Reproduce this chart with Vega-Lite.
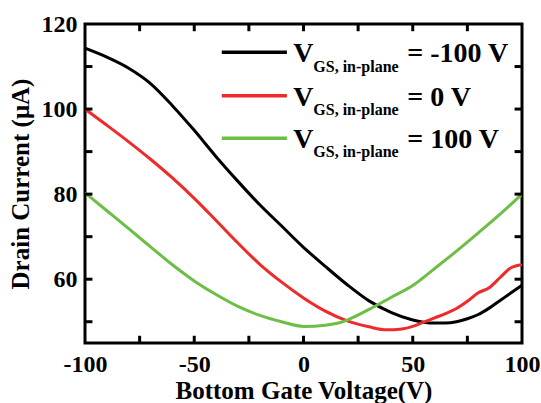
{
  "$schema": "https://vega.github.io/schema/vega-lite/v6.json",
  "width": 437,
  "height": 319,
  "autosize": "none",
  "padding": {"left": 85, "top": 24, "right": 19, "bottom": 60},
  "background": "white",
  "config": {
    "font": "Liberation Serif",
    "view": {"stroke": "black", "strokeWidth": 3},
    "axis": {
      "domain": false, "grid": false, "ticks": false,
      "labelFont": "Liberation Serif", "labelFontWeight": "bold", "labelFontSize": 24, "labelColor": "black",
      "titleFont": "Liberation Serif", "titleFontWeight": "bold", "titleFontSize": 25, "titleColor": "black",
      "labelFlush": false, "labelOverlap": false, "labelBound": false
    }
  },
  "datasets": {
    "xticks": [
      {"v": -75, "kind": "minor"},
      {"v": -50, "kind": "major"},
      {"v": -25, "kind": "minor"},
      {"v": 0, "kind": "major"},
      {"v": 25, "kind": "minor"},
      {"v": 50, "kind": "major"},
      {"v": 75, "kind": "minor"}
    ],
    "yticks": [
      {"v": 50, "kind": "minor"},
      {"v": 60, "kind": "major"},
      {"v": 70, "kind": "minor"},
      {"v": 80, "kind": "major"},
      {"v": 90, "kind": "minor"},
      {"v": 100, "kind": "major"},
      {"v": 110, "kind": "minor"}
    ],
    "curves": [
      {"series": "-100", "vbg": -100, "current": 114.3},
      {"series": "-100", "vbg": -90, "current": 112.2},
      {"series": "-100", "vbg": -80, "current": 109.6},
      {"series": "-100", "vbg": -70, "current": 106.0},
      {"series": "-100", "vbg": -60, "current": 100.8},
      {"series": "-100", "vbg": -50, "current": 95.0},
      {"series": "-100", "vbg": -40, "current": 88.8},
      {"series": "-100", "vbg": -30, "current": 83.0},
      {"series": "-100", "vbg": -20, "current": 77.5},
      {"series": "-100", "vbg": -10, "current": 72.5},
      {"series": "-100", "vbg": 0, "current": 67.5},
      {"series": "-100", "vbg": 10, "current": 63.0},
      {"series": "-100", "vbg": 20, "current": 58.7},
      {"series": "-100", "vbg": 30, "current": 54.9},
      {"series": "-100", "vbg": 40, "current": 52.2},
      {"series": "-100", "vbg": 50, "current": 50.4},
      {"series": "-100", "vbg": 55, "current": 49.9},
      {"series": "-100", "vbg": 60, "current": 49.7},
      {"series": "-100", "vbg": 65, "current": 49.7},
      {"series": "-100", "vbg": 70, "current": 50.0},
      {"series": "-100", "vbg": 75, "current": 50.7},
      {"series": "-100", "vbg": 80, "current": 51.7},
      {"series": "-100", "vbg": 85, "current": 53.2},
      {"series": "-100", "vbg": 90, "current": 55.0},
      {"series": "-100", "vbg": 95, "current": 56.8},
      {"series": "-100", "vbg": 100, "current": 58.6},
      {"series": "0", "vbg": -100, "current": 100.0},
      {"series": "0", "vbg": -90, "current": 96.2},
      {"series": "0", "vbg": -80, "current": 92.3},
      {"series": "0", "vbg": -70, "current": 88.2},
      {"series": "0", "vbg": -60, "current": 83.8},
      {"series": "0", "vbg": -50, "current": 79.0},
      {"series": "0", "vbg": -40, "current": 73.8},
      {"series": "0", "vbg": -30, "current": 68.5},
      {"series": "0", "vbg": -20, "current": 63.5},
      {"series": "0", "vbg": -10, "current": 59.3},
      {"series": "0", "vbg": 0, "current": 55.6},
      {"series": "0", "vbg": 10, "current": 52.5},
      {"series": "0", "vbg": 20, "current": 50.2},
      {"series": "0", "vbg": 30, "current": 48.8},
      {"series": "0", "vbg": 38, "current": 48.1},
      {"series": "0", "vbg": 45, "current": 48.3},
      {"series": "0", "vbg": 50, "current": 48.9},
      {"series": "0", "vbg": 55, "current": 49.9},
      {"series": "0", "vbg": 60, "current": 50.9},
      {"series": "0", "vbg": 65, "current": 51.9},
      {"series": "0", "vbg": 70, "current": 53.1},
      {"series": "0", "vbg": 75, "current": 54.8},
      {"series": "0", "vbg": 80, "current": 56.8},
      {"series": "0", "vbg": 85, "current": 58.0},
      {"series": "0", "vbg": 90, "current": 60.4},
      {"series": "0", "vbg": 95, "current": 62.7},
      {"series": "0", "vbg": 100, "current": 63.4},
      {"series": "100", "vbg": -100, "current": 80.3},
      {"series": "100", "vbg": -90, "current": 76.1},
      {"series": "100", "vbg": -80, "current": 71.9},
      {"series": "100", "vbg": -70, "current": 67.6},
      {"series": "100", "vbg": -60, "current": 63.4},
      {"series": "100", "vbg": -50, "current": 59.6},
      {"series": "100", "vbg": -40, "current": 56.4},
      {"series": "100", "vbg": -30, "current": 53.6},
      {"series": "100", "vbg": -20, "current": 51.5},
      {"series": "100", "vbg": -10, "current": 50.0},
      {"series": "100", "vbg": 0, "current": 48.9},
      {"series": "100", "vbg": 10, "current": 49.2},
      {"series": "100", "vbg": 15, "current": 49.6},
      {"series": "100", "vbg": 20, "current": 50.4},
      {"series": "100", "vbg": 30, "current": 52.9},
      {"series": "100", "vbg": 40, "current": 55.7},
      {"series": "100", "vbg": 50, "current": 58.5},
      {"series": "100", "vbg": 60, "current": 62.5},
      {"series": "100", "vbg": 70, "current": 66.6},
      {"series": "100", "vbg": 80, "current": 70.9},
      {"series": "100", "vbg": 90, "current": 75.3},
      {"series": "100", "vbg": 100, "current": 80.0}
    ]
  },
  "resolve": {"axis": {"x": "independent", "y": "independent"}},
  "layer": [
    {
      "data": {"name": "curves"},
      "mark": {"type": "line", "strokeWidth": 3, "interpolate": "monotone", "clip": true},
      "encoding": {
        "x": {
          "field": "vbg", "type": "quantitative",
          "scale": {"domain": [-100, 100], "nice": false, "zero": false},
          "axis": {
            "orient": "bottom",
            "values": [-100, -50, 0, 50, 100],
            "labelExpr": "'' + datum.value",
            "labelPadding": 9,
            "title": "Bottom Gate Voltage(V)",
            "titlePadding": 2
          }
        },
        "y": {
          "field": "current", "type": "quantitative",
          "scale": {"domain": [45, 120], "nice": false, "zero": false},
          "axis": {
            "orient": "left",
            "values": [60, 80, 100, 120],
            "labelExpr": "'' + datum.value",
            "labelPadding": 8,
            "title": "Drain Current (μA)",
            "titlePadding": 8
          }
        },
        "color": {
          "field": "series", "type": "nominal",
          "scale": {"domain": ["-100", "0", "100"], "range": ["#000000", "#ee2a2a", "#6cbe45"]},
          "legend": null
        }
      }
    },
    {
      "data": {"name": "xticks"},
      "mark": {"type": "rule", "stroke": "#000000", "strokeWidth": 3, "strokeOpacity": 1},
      "encoding": {
        "x": {"field": "v", "type": "quantitative", "axis": null},
        "y": {"datum": 45, "type": "quantitative", "axis": null},
        "y2": {"datum": 46.7}
      }
    },
    {
      "data": {"name": "xticks"},
      "mark": {"type": "rule", "stroke": "#000000", "strokeWidth": 3, "strokeOpacity": 1},
      "encoding": {
        "x": {"field": "v", "type": "quantitative", "axis": null},
        "y": {"datum": 120, "type": "quantitative", "axis": null},
        "y2": {"datum": 118.3}
      }
    },
    {
      "data": {"name": "yticks"},
      "mark": {"type": "rule", "stroke": "#000000", "strokeWidth": 3, "strokeOpacity": 1},
      "encoding": {
        "y": {"field": "v", "type": "quantitative", "axis": null},
        "x": {"datum": -100, "type": "quantitative", "axis": null},
        "x2": {"datum": -96.6}
      }
    },
    {
      "data": {"name": "yticks"},
      "mark": {"type": "rule", "stroke": "#000000", "strokeWidth": 3, "strokeOpacity": 1},
      "encoding": {
        "y": {"field": "v", "type": "quantitative", "axis": null},
        "x": {"datum": 100, "type": "quantitative", "axis": null},
        "x2": {"datum": 96.6}
      }
    },
    {
      "data": {"values": [{"series": "-100", "label": "= -100 V"}]},
      "mark": {"type": "rule", "strokeWidth": 3.5},
      "encoding": {
        "x": {"datum": -37.4, "type": "quantitative", "axis": null},
        "x2": {"datum": -7.6},
        "y": {"datum": 113.35, "type": "quantitative", "axis": null},
        "color": {"field": "series", "type": "nominal", "legend": null}
      }
    },
    {
      "data": {"values": [{"series": "-100", "label": "= -100 V"}]},
      "mark": {"type": "text", "align": "left", "baseline": "alphabetic", "font": "Liberation Serif", "fontWeight": "bold", "fontSize": 28, "color": "black"},
      "encoding": {
        "x": {"datum": -4.7, "type": "quantitative", "axis": null},
        "y": {"datum": 111.0, "type": "quantitative", "axis": null},
        "text": {"value": "V"}
      }
    },
    {
      "data": {"values": [{"series": "-100", "label": "= -100 V"}]},
      "mark": {"type": "text", "align": "left", "baseline": "alphabetic", "font": "Liberation Serif", "fontWeight": "bold", "fontSize": 16, "color": "black"},
      "encoding": {
        "x": {"datum": 4.5, "type": "quantitative", "axis": null},
        "y": {"datum": 108.8, "type": "quantitative", "axis": null},
        "text": {"value": "GS, in-plane"}
      }
    },
    {
      "data": {"values": [{"series": "-100", "label": "= -100 V"}]},
      "mark": {"type": "text", "align": "left", "baseline": "alphabetic", "font": "Liberation Serif", "fontWeight": "bold", "fontSize": 28, "color": "black"},
      "encoding": {
        "x": {"datum": 47.5, "type": "quantitative", "axis": null},
        "y": {"datum": 111.0, "type": "quantitative", "axis": null},
        "text": {"field": "label"}
      }
    },
    {
      "data": {"values": [{"series": "0", "label": "= 0 V"}]},
      "mark": {"type": "rule", "strokeWidth": 3.5},
      "encoding": {
        "x": {"datum": -37.4, "type": "quantitative", "axis": null},
        "x2": {"datum": -7.6},
        "y": {"datum": 103.14, "type": "quantitative", "axis": null},
        "color": {"field": "series", "type": "nominal", "legend": null}
      }
    },
    {
      "data": {"values": [{"series": "0", "label": "= 0 V"}]},
      "mark": {"type": "text", "align": "left", "baseline": "alphabetic", "font": "Liberation Serif", "fontWeight": "bold", "fontSize": 28, "color": "black"},
      "encoding": {
        "x": {"datum": -4.7, "type": "quantitative", "axis": null},
        "y": {"datum": 100.79, "type": "quantitative", "axis": null},
        "text": {"value": "V"}
      }
    },
    {
      "data": {"values": [{"series": "0", "label": "= 0 V"}]},
      "mark": {"type": "text", "align": "left", "baseline": "alphabetic", "font": "Liberation Serif", "fontWeight": "bold", "fontSize": 16, "color": "black"},
      "encoding": {
        "x": {"datum": 4.5, "type": "quantitative", "axis": null},
        "y": {"datum": 98.6, "type": "quantitative", "axis": null},
        "text": {"value": "GS, in-plane"}
      }
    },
    {
      "data": {"values": [{"series": "0", "label": "= 0 V"}]},
      "mark": {"type": "text", "align": "left", "baseline": "alphabetic", "font": "Liberation Serif", "fontWeight": "bold", "fontSize": 28, "color": "black"},
      "encoding": {
        "x": {"datum": 47.5, "type": "quantitative", "axis": null},
        "y": {"datum": 100.79, "type": "quantitative", "axis": null},
        "text": {"field": "label"}
      }
    },
    {
      "data": {"values": [{"series": "100", "label": "= 100 V"}]},
      "mark": {"type": "rule", "strokeWidth": 3.5},
      "encoding": {
        "x": {"datum": -37.4, "type": "quantitative", "axis": null},
        "x2": {"datum": -7.6},
        "y": {"datum": 93.13, "type": "quantitative", "axis": null},
        "color": {"field": "series", "type": "nominal", "legend": null}
      }
    },
    {
      "data": {"values": [{"series": "100", "label": "= 100 V"}]},
      "mark": {"type": "text", "align": "left", "baseline": "alphabetic", "font": "Liberation Serif", "fontWeight": "bold", "fontSize": 28, "color": "black"},
      "encoding": {
        "x": {"datum": -4.7, "type": "quantitative", "axis": null},
        "y": {"datum": 90.78, "type": "quantitative", "axis": null},
        "text": {"value": "V"}
      }
    },
    {
      "data": {"values": [{"series": "100", "label": "= 100 V"}]},
      "mark": {"type": "text", "align": "left", "baseline": "alphabetic", "font": "Liberation Serif", "fontWeight": "bold", "fontSize": 16, "color": "black"},
      "encoding": {
        "x": {"datum": 4.5, "type": "quantitative", "axis": null},
        "y": {"datum": 88.66, "type": "quantitative", "axis": null},
        "text": {"value": "GS, in-plane"}
      }
    },
    {
      "data": {"values": [{"series": "100", "label": "= 100 V"}]},
      "mark": {"type": "text", "align": "left", "baseline": "alphabetic", "font": "Liberation Serif", "fontWeight": "bold", "fontSize": 28, "color": "black"},
      "encoding": {
        "x": {"datum": 47.5, "type": "quantitative", "axis": null},
        "y": {"datum": 90.78, "type": "quantitative", "axis": null},
        "text": {"field": "label"}
      }
    }
  ]
}
